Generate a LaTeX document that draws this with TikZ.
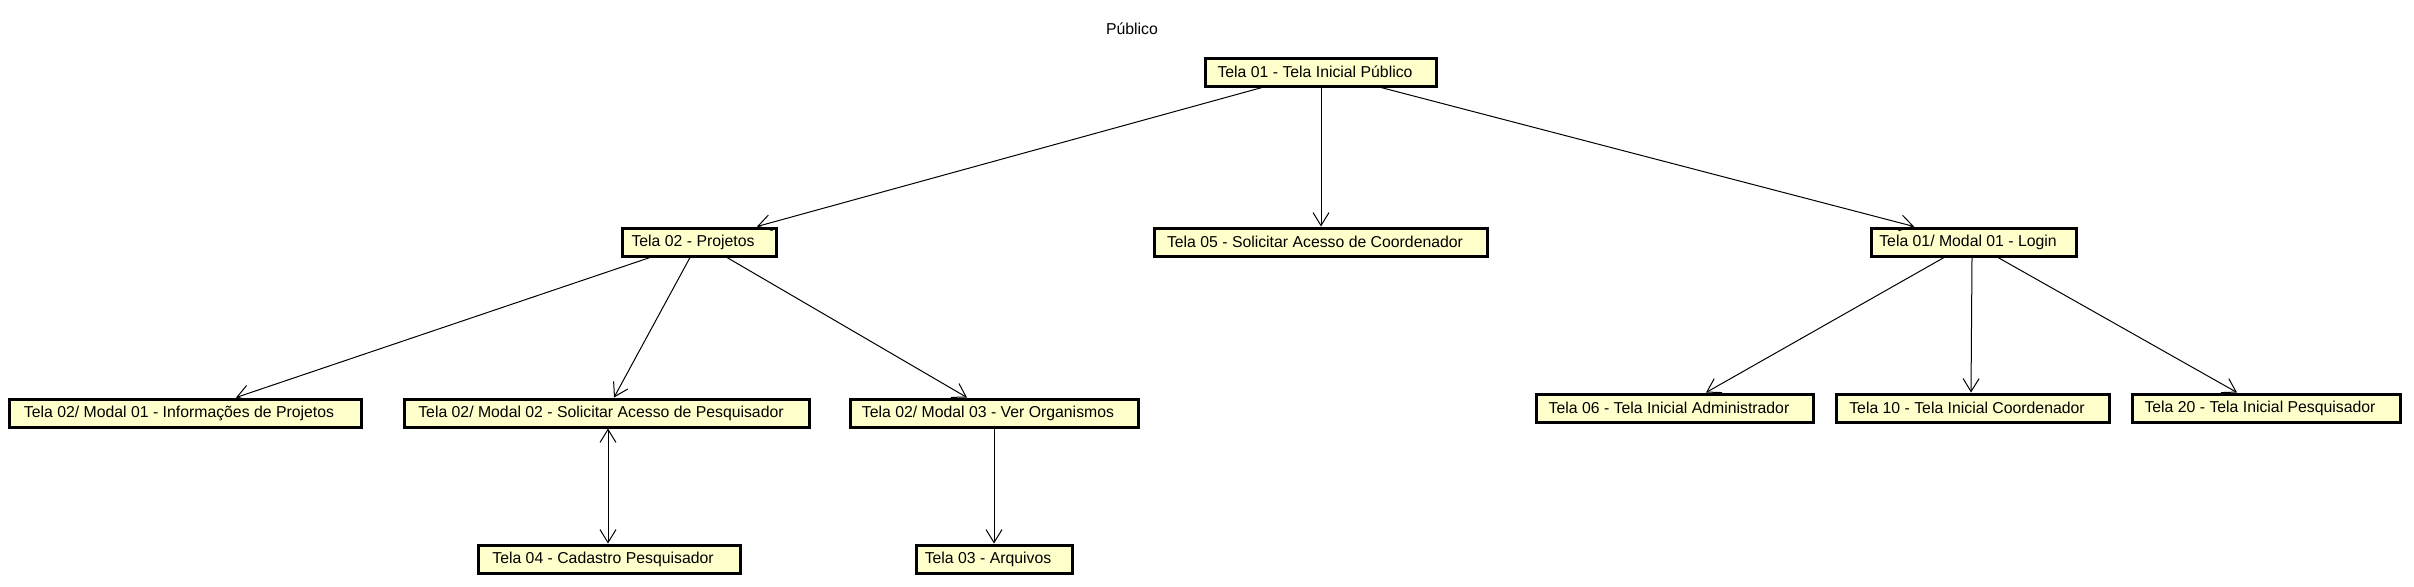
\documentclass[tikz,border=0pt]{standalone}
\usepackage{fontspec}
\setmainfont{Liberation Sans}
\usetikzlibrary{arrows.meta,calc}
\definecolor{telafill}{RGB}{255,255,204}
\tikzset{tela/.style={draw=black,line width=1.5pt,fill=telafill,
 minimum height=14pt,inner sep=0pt,font=\fontsize{7.9}{9}\selectfont,
 execute at end node={\kern6pt}},
 arr/.style={-{Straight Barb[length=6.5pt,width=8pt]},line width=0.5pt,draw=black},
 dupla/.style={{Straight Barb[length=6.5pt,width=8pt]}-{Straight Barb[length=6.5pt,width=8pt]},line width=0.5pt,draw=black},
 titulo/.style={font=\fontsize{7.9}{9}\selectfont}}

\begin{document}
\begin{tikzpicture}[x=0.5pt,y=-0.5pt]
\useasboundingbox (0,0) rectangle (2414,586);
\node[titulo] (pub) at (1132,29) {Público};
\node[tela,minimum width=115.5pt] (t01) at (1321,72) {Tela 01 - Tela Inicial Público};
\node[tela,minimum width=77pt] (t02) at (699,242) {Tela 02 - Projetos};
\node[tela,minimum width=166.5pt] (t05) at (1321,242) {Tela 05 - Solicitar Acesso de Coordenador};
\node[tela,minimum width=102.5pt] (login) at (1974,242) {Tela 01/ Modal 01 - Login};
\node[tela,minimum width=176pt] (m01) at (185,413) {Tela 02/ Modal 01 - Informações de Projetos};
\node[tela,minimum width=202.5pt] (m02) at (607,413) {Tela 02/ Modal 02 - Solicitar Acesso de Pesquisador};
\node[tela,minimum width=144pt] (m03) at (994,413) {Tela 02/ Modal 03 - Ver Organismos};
\node[tela,minimum width=131pt] (t04) at (609,559) {Tela 04 - Cadastro Pesquisador};
\node[tela,minimum width=78pt] (t03) at (994,559) {Tela 03 - Arquivos};
\node[tela,minimum width=138.5pt] (t06) at (1675,408) {Tela 06 - Tela Inicial Administrador};
\node[tela,minimum width=136.5pt] (t10) at (1973,408) {Tela 10 - Tela Inicial Coordenador};
\node[tela,minimum width=134pt] (t20) at (2266,408) {Tela 20 - Tela Inicial Pesquisador};
% tela inicial
\draw[arr] ($(t01.south)+(-59,0)$)--($(t02.north)+(58,0)$);
\draw[arr] (t01.south)--(t05.north);
\draw[arr] ($(t01.south)+(60,0)$)--($(login.north)+(-60,0)$);
% projetos
\draw[arr] ($(t02.south)+(-49,0)$)--($(m01.north)+(51,0)$);
\draw[arr] ($(t02.south)+(-9,0)$)--($(m02.north)+(7,0)$);
\draw[arr] ($(t02.south)+(28,0)$)--($(m03.north)+(-27,0)$);
\draw[dupla] ($(m02.south)+(1,0)$)--($(t04.north)+(-1,0)$);
\draw[arr] (m03.south)--(t03.north);
% login
\draw[arr] ($(login.south)+(-30,0)$)--($(t06.north)+(31,0)$);
\draw[arr] ($(login.south)+(-2,0)$)--($(t10.north)+(-2,0)$);
\draw[arr] ($(login.south)+(24,0)$)--($(t20.north)+(-29,0)$);
\end{tikzpicture}
\end{document}
